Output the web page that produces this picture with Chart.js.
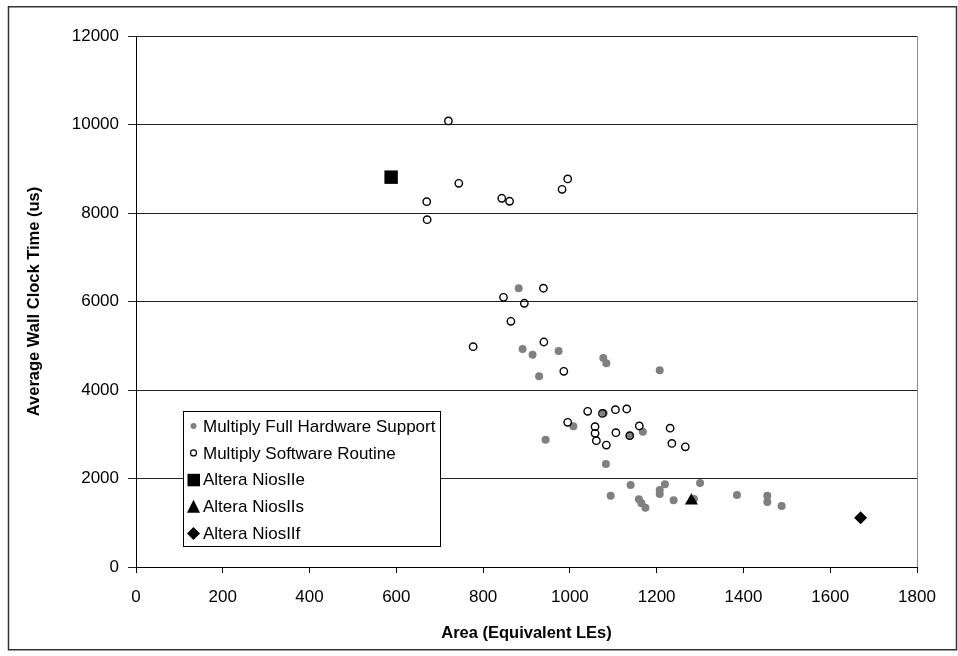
<!DOCTYPE html>
<html><head><meta charset="utf-8">
<script src="https://cdn.jsdelivr.net/npm/chart.js@4.4.0/dist/chart.umd.min.js"></script>
<style>html,body{margin:0;padding:0;background:#fff;}#c{display:block;}</style>
</head><body>
<canvas id="c" width="958" height="656"></canvas>
<script>
// ---- data ----
const hwArea = [882, 891, 914, 974, 929, 1077, 1084, 1207, 1078, 1008, 944, 1138, 1168, 1083, 1140, 1094, 1159, 1165, 1174, 1207, 1207, 1219, 1239, 1286, 1300, 1385, 1455, 1455, 1488];
const hwTime = [6300, 4927, 4798, 4882, 4310, 4723, 4603, 4445, 3480, 3179, 2877, 2967, 3058, 2330, 1853, 1612, 1530, 1440, 1340, 1740, 1650, 1869, 1507, 1537, 1898, 1627, 1612, 1469, 1379];
const swArea = [720, 744, 670, 671, 843, 861, 982, 995, 939, 847, 895, 864, 777, 940, 986, 1041, 1075, 1105, 1131, 995, 1058, 1058, 1061, 1084, 1106, 1138, 1160, 1231, 1235, 1266];
const swTime = [10080, 8670, 8257, 7850, 8333, 8265, 8536, 8769, 6300, 6095, 5960, 5553, 4979, 5085, 4423, 3519, 3470, 3555, 3571, 3270, 3171, 3021, 2854, 2755, 3035, 2967, 3187, 3138, 2792, 2715];
const niosEArea = [588];  const niosETime = [8810];
const niosSArea = [1280]; const niosSTime = [1500];
const niosFArea = [1670]; const niosFTime = [1115];
const seriesLabels = ['Multiply Full Hardware Support', 'Multiply Software Routine', 'Altera NiosIIe', 'Altera NiosIIs', 'Altera NiosIIf'];
const xTickMin = 0, xTickMax = 1800, xTickStep = 200;
const yTickMin = 0, yTickMax = 12000, yTickStep = 2000;

const FONT = "'Liberation Sans', Arial, sans-serif";
const pts = (xs, ys) => xs.map((x, i) => ({x: x, y: ys[i]}));

function drawMarker(ctx, kind, x, y) {
  ctx.save();
  if (kind === 0) { ctx.fillStyle = '#808080'; ctx.beginPath(); ctx.arc(x, y, 3, 0, Math.PI * 2); ctx.fill(); }
  else if (kind === 1) { ctx.strokeStyle = '#000'; ctx.lineWidth = 1.2; ctx.beginPath(); ctx.arc(x, y, 3, 0, Math.PI * 2); ctx.stroke(); }
  else if (kind === 2) { ctx.fillStyle = '#000'; ctx.fillRect(x - 6, y - 6, 12.5, 12.5); }
  else if (kind === 3) { ctx.fillStyle = '#000'; ctx.beginPath(); ctx.moveTo(x, y - 7); ctx.lineTo(x + 6.5, y + 6); ctx.lineTo(x - 6.5, y + 6); ctx.closePath(); ctx.fill(); }
  else { ctx.fillStyle = '#000'; ctx.beginPath(); ctx.moveTo(x, y - 6.5); ctx.lineTo(x + 6.5, y); ctx.lineTo(x, y + 6.5); ctx.lineTo(x - 6.5, y); ctx.closePath(); ctx.fill(); }
  ctx.restore();
}

const deco = {
  id: 'deco',
  beforeDraw(chart) {
    const c = chart.ctx; c.save(); c.fillStyle = '#fff'; c.fillRect(0, 0, chart.width, chart.height); c.restore();
  },
  beforeDatasetsDraw(chart) {
    const c = chart.ctx, a = chart.chartArea;
    c.save(); c.strokeStyle = '#8c8c8c'; c.lineWidth = 1;
    c.beginPath(); c.moveTo(Math.round(a.right) + 0.5, a.top); c.lineTo(Math.round(a.right) + 0.5, a.bottom); c.stroke();
    c.restore();
  },
  afterDraw(chart) {
    const c = chart.ctx;
    const lx = 183.5, ly = 411.5, lw = 257, lh = 135;
    c.save();
    c.fillStyle = '#fff'; c.fillRect(lx, ly, lw, lh);
    c.strokeStyle = '#000'; c.lineWidth = 1; c.strokeRect(lx, ly, lw, lh);
    c.font = '17px ' + FONT; c.fillStyle = '#000'; c.textBaseline = 'middle'; c.textAlign = 'left';
    chart.data.datasets.forEach((ds, i) => {
      const y = 426 + i * 26.9;
      drawMarker(c, i, 193.5, y);
      c.fillText(ds.label, 203, y + 1);
    });
    c.strokeStyle = '#333'; c.lineWidth = 1.5;
    c.strokeRect(8.5, 6.75, 948, 643);
    c.restore();
  }
};

new Chart(document.getElementById('c'), {
  type: 'scatter',
  data: {
    datasets: [
      { label: seriesLabels[0], data: pts(hwArea, hwTime), pointStyle: 'circle', pointRadius: 4, backgroundColor: '#808080', borderColor: '#808080', borderWidth: 0, order: 4 },
      { label: seriesLabels[1], data: pts(swArea, swTime), pointStyle: 'circle', pointRadius: 3.7, backgroundColor: 'rgba(0,0,0,0)', borderColor: '#000', borderWidth: 1.4, order: 3 },
      { label: seriesLabels[2], data: pts(niosEArea, niosETime), pointStyle: 'rect', pointRadius: 9.5, backgroundColor: '#000', borderColor: '#000', borderWidth: 0, order: 2 },
      { label: seriesLabels[3], data: pts(niosSArea, niosSTime), pointStyle: 'triangle', pointRadius: 7.5, backgroundColor: '#000', borderColor: '#000', borderWidth: 0, order: 1 },
      { label: seriesLabels[4], data: pts(niosFArea, niosFTime), pointStyle: 'rectRot', pointRadius: 6.5, backgroundColor: '#000', borderColor: '#000', borderWidth: 0, order: 0 }
    ]
  },
  options: {
    responsive: false, animation: false, devicePixelRatio: 1,
    layout: { padding: { left: 0, right: 41, top: 36, bottom: 0 } },
    plugins: { legend: { display: false }, tooltip: { enabled: false } },
    scales: {
      x: {
        type: 'linear', position: 'bottom', min: xTickMin, max: xTickMax,
        ticks: { stepSize: xTickStep, color: '#000', font: { size: 17, family: FONT }, padding: 14, maxRotation: 0, callback: v => String(v) },
        grid: { drawOnChartArea: false, drawTicks: true, tickLength: 6, color: '#000' },
        border: { color: '#000', width: 1 },
        title: { display: true, text: 'Area (Equivalent LEs)', color: '#000', font: { size: 16.5, weight: 'bold', family: FONT }, padding: { top: 4, bottom: 13 } },
        afterFit(s) { s.height = 89; }
      },
      y: {
        type: 'linear', min: yTickMin, max: yTickMax,
        ticks: { stepSize: yTickStep, color: '#000', font: { size: 17, family: FONT }, padding: 9, callback: v => String(v) },
        grid: { color: '#222', drawTicks: true, tickLength: 8 },
        border: { color: '#000', width: 1 },
        title: { display: true, text: 'Average Wall Clock Time (us)', color: '#000', font: { size: 16.5, weight: 'bold', family: FONT }, padding: { top: 25, bottom: 0 } },
        afterFit(s) { s.width = 136; }
      }
    }
  },
  plugins: [deco]
});
</script>
</body></html>
